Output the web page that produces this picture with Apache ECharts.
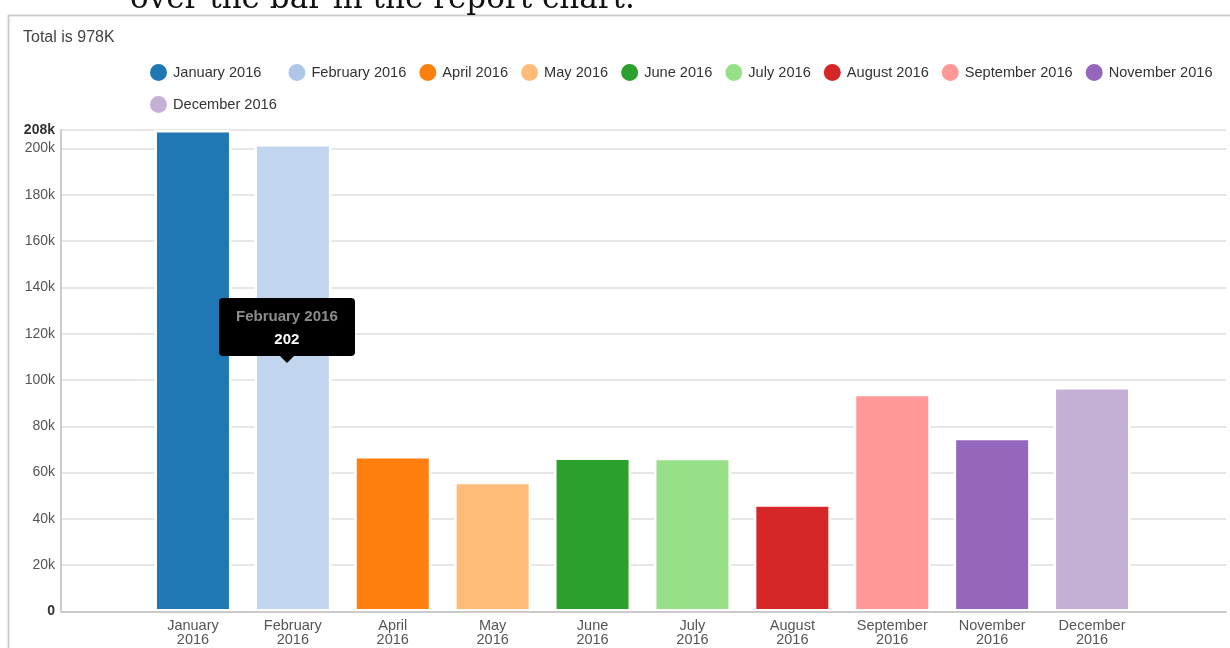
<!DOCTYPE html>
<html>
<head>
<meta charset="utf-8">
<title>Monthly totals 2016</title>
<script src="https://cdn.jsdelivr.net/npm/echarts@6/dist/echarts.min.js"></script>
<style>
  html, body { margin: 0; padding: 0; background: #fff; }
  #chart { width: 1230px; height: 648px; }
</style>
</head>
<body>
<div id="chart"></div>
<script>
// Months shown in the report and their totals
const categories = ['January 2016', 'February 2016', 'April 2016', 'May 2016', 'June 2016',
  'July 2016', 'August 2016', 'September 2016', 'November 2016', 'December 2016'];
const values = [208000, 202000, 67200, 56100, 66500, 66400, 46300, 94100, 75100, 97000];
const palette = ['#1f77b4', '#aec7e8', '#ff7f0e', '#ffbb78', '#2ca02c',
  '#98df8a', '#d62728', '#ff9896', '#9467bd', '#c5b0d5'];
const yMax = 208000;
const yStep = 20000;
const titleText = 'Total is 978K';
const captionText = 'over the bar in the report chart.';
const hovered = 1; // the month whose tooltip is open

const FONT = '"Liberation Sans", Arial, Helvetica, sans-serif';
const CSS_FONT = FONT.replace(/"/g, "'");
const LEGEND_SIZE = 14.6;

// blend a hex colour towards white (hover highlight)
function brighten(hex, t) {
  const n = parseInt(hex.slice(1), 16);
  const ch = s => Math.round(((n >> s) & 255) + (255 - ((n >> s) & 255)) * t);
  return 'rgb(' + ch(16) + ',' + ch(8) + ',' + ch(0) + ')';
}

const yLabel = v => {
  if (v === 0) return '{b|0}';
  if (v === yMax) return '{b|' + (v / 1000) + 'k}';
  return (v / 1000) + 'k';
};

// one series per month so each gets its own legend entry
const series = categories.map((name, i) => ({
  name: name,
  type: 'bar',
  xAxisIndex: 1,
  yAxisIndex: 1,
  barWidth: 77,
  barGap: '-100%',
  itemStyle: { color: palette[i], borderColor: '#fff', borderWidth: 2.5 },
  emphasis: { disabled: true },
  data: categories.map((_, j) => {
    if (j !== i) return null;
    if (i === hovered) return { value: values[i], itemStyle: { color: brighten(palette[i], 0.25) } };
    return values[i];
  })
}));

const chart = echarts.init(document.getElementById('chart'), null, { renderer: 'canvas' });

chart.setOption({
  animation: false,
  backgroundColor: '#fff',
  color: palette,
  graphic: [
    {
      type: 'text', left: 130, top: -16, z: 1,
      style: { text: captionText, font: '31px "DejaVu Serif", serif', fill: '#111' }
    },
    {
      type: 'rect', z: -10, silent: true,
      shape: { x: 8.5, y: 15.5, width: 1300, height: 700 },
      style: { fill: '#fff', stroke: '#c9c9c9', lineWidth: 1.5,
        shadowBlur: 3, shadowColor: 'rgba(0,0,0,0.12)' }
    }
  ],
  title: {
    text: titleText, left: 18, top: 25,
    textStyle: { fontFamily: FONT, fontSize: 16, fontWeight: 'normal', color: '#444' }
  },
  legend: {
    data: categories,
    left: 143, right: 0, top: 57,
    icon: 'circle', itemWidth: 19, itemHeight: 19, itemGap: 11,
    // the first entry keeps a wider slot after its text
    formatter: name => (name === categories[0] ? '{wide|' + name + '}' : name),
    textStyle: {
      fontFamily: FONT, fontSize: LEGEND_SIZE, color: '#333', lineHeight: 20,
      rich: {
        wide: { fontFamily: FONT, fontSize: LEGEND_SIZE, color: '#333', lineHeight: 20, padding: [0, 14, 0, 0] }
      }
    }
  },
  tooltip: {
    trigger: 'item',
    alwaysShowContent: true,
    showDelay: 0,
    transitionDuration: 0,
    backgroundColor: '#000',
    borderColor: '#000',
    borderWidth: 0,
    borderRadius: 4,
    padding: [6, 17],
    extraCssText: 'box-shadow:none;',
    formatter: p =>
      '<div style="font:bold 15px ' + CSS_FONT + ';line-height:23px;text-align:center;color:#8c8c8c">' + p.seriesName + '</div>' +
      '<div style="font:bold 15px ' + CSS_FONT + ';line-height:23px;text-align:center;color:#fff">' + Math.round(p.value / 1000) + '</div>' +
      '<div style="position:absolute;left:50%;bottom:-7px;margin-left:-7px;width:0;height:0;border-left:7px solid transparent;border-right:7px solid transparent;border-top:7px solid #000"></div>',
    // box sits above the middle of the hovered bar, near the pointer
    position: (pt, params, dom, rect, size) => {
      const cx = rect ? rect.x + rect.width / 2 - 6 : pt[0];
      const cy = rect ? rect.y + rect.height / 2 : pt[1];
      return [cx - size.contentSize[0] / 2, cy - size.contentSize[1] - 22];
    }
  },
  grid: [
    { left: 61, right: 4, top: 130, bottom: 36.5 },
    { left: 143, right: 88, top: 130, bottom: 36.5 }
  ],
  xAxis: [
    {
      gridIndex: 0, type: 'value', min: 0, max: 1, z: 10,
      axisLine: { show: true, lineStyle: { color: '#cbcbcb', width: 2 } },
      axisTick: { show: false }, axisLabel: { show: false }, splitLine: { show: false }
    },
    {
      gridIndex: 1, type: 'category', data: categories,
      axisLine: { show: false }, axisTick: { show: false },
      axisLabel: {
        interval: 0, margin: 7,
        fontFamily: FONT, fontSize: 14.5, color: '#555', lineHeight: 14,
        formatter: v => v.replace(' ', '\n')
      }
    }
  ],
  yAxis: [
    {
      gridIndex: 0, type: 'value', min: 0, max: yMax, interval: yStep,
      axisLine: { show: true, lineStyle: { color: '#cbcbcb', width: 2 } },
      axisTick: { show: false },
      splitLine: { lineStyle: { color: '#dedede', width: 1.5 } },
      axisLabel: {
        margin: 6, fontFamily: FONT, fontSize: 14, color: '#555',
        formatter: yLabel,
        rich: { b: { fontFamily: FONT, fontSize: 14, fontWeight: 'bold', color: '#333' } }
      }
    },
    { gridIndex: 1, type: 'value', min: 0, max: yMax, interval: yStep, show: false }
  ],
  series: series
});

chart.dispatchAction({ type: 'showTip', seriesIndex: hovered, dataIndex: hovered });
</script>
</body>
</html>
